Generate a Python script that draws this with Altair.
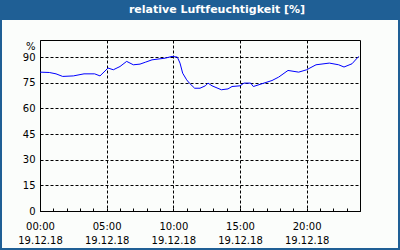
import altair as alt
import pandas as pd

hours = [0.0, 0.7, 1.2, 1.7, 2.5, 3.3, 4.1, 4.5, 5.1, 5.5, 6.0, 6.5, 7.0, 7.5, 7.9,
         8.4, 9.4, 9.9, 10.3, 10.5, 10.7, 11.0, 11.2, 11.6, 12.0, 12.4, 12.6, 12.9,
         13.6, 14.1, 14.4, 15.0, 15.3, 15.8, 16.0, 16.8, 17.4, 17.9, 18.6, 19.4,
         20.0, 20.7, 21.7, 22.4, 22.8, 23.4, 23.9]
humidity = [81.2, 81.0, 80.2, 78.7, 79.0, 80.2, 80.2, 79.0, 83.6, 82.6, 84.5, 87.5,
            85.5, 85.9, 87.0, 88.4, 89.4, 90.4, 90.0, 86.5, 80.6, 76.7, 74.8, 71.8,
            71.8, 73.2, 74.8, 73.2, 70.9, 71.4, 72.8, 73.2, 74.8, 74.8, 72.8, 74.8,
            76.3, 78.3, 82.2, 81.2, 82.6, 85.5, 86.5, 85.5, 84.2, 86.1, 90.4]
x_ticks = [0, 5, 10, 15, 20]
y_ticks = [0, 15, 30, 45, 60, 75, 90]
minor_ticks = list(range(0, 25))
date_label = "19.12.18"
title_text = "relative Luftfeuchtigkeit [%]"

df = pd.DataFrame({"h": hours, "rh": humidity})

FONT = "DejaVu Sans"
BLUE = "#1f5f95"

x_scale = alt.Scale(domain=[0, 24], nice=False, zero=False)
y_scale = alt.Scale(domain=[0, 100], nice=False)

line = alt.Chart(df).mark_line(color="#0000ff", strokeWidth=1).encode(
    x=alt.X("h:Q", scale=x_scale, axis=alt.Axis(
        values=x_ticks, title=None, grid=True, gridColor="black", gridDash=[3, 2],
        gridOpacity=1, ticks=False, domain=True, domainColor="black",
        labelExpr=f"[(datum.value < 10 ? '0' : '') + datum.value + ':00', '{date_label}']",
        labelFont=FONT, labelFontSize=10, labelColor="black", labelPadding=15,
        labelLineHeight=14, labelBaseline="middle", labelFlush=False)),
    y=alt.Y("rh:Q", scale=y_scale, axis=alt.Axis(
        values=y_ticks, title="%", titleAngle=0, titleFont=FONT, titleFontSize=10,
        titleFontWeight="normal", titleColor="black", titleX=-5, titleY=6,
        titleAlign="right", titleBaseline="middle",
        grid=True, gridColor="black", gridDash=[3, 2], gridOpacity=1,
        ticks=False, domain=False, labelFont=FONT, labelFontSize=10,
        labelColor="black", labelPadding=5)),
)

minor = alt.Chart(pd.DataFrame({"h": minor_ticks})).mark_point(opacity=0).encode(
    x=alt.X("h:Q", scale=x_scale, axis=alt.Axis(
        values=minor_ticks, orient="bottom", offset=-3, title=None, labels=False,
        grid=False, domain=False, ticks=True, tickSize=3, tickColor="black")),
)

title_bar = alt.Chart(pd.DataFrame({"t": [title_text]})).mark_rect(color=BLUE).encode(
    x=alt.value(-40), x2=alt.value(360), y=alt.value(-40), y2=alt.value(-20))

frame = alt.Chart(pd.DataFrame({"t": [title_text]})).mark_rect(
    fill=None, stroke=BLUE, strokeWidth=2).encode(
    x=alt.value(-39), x2=alt.value(359), y=alt.value(-39), y2=alt.value(209))

title = alt.Chart(pd.DataFrame({"t": [title_text]})).mark_text(
    font=FONT, fontSize=11, fontWeight="bold", color="white", align="center",
    baseline="alphabetic").encode(
    text="t:N", x=alt.value(177), y=alt.value(-27))

chart = alt.layer(line, minor, title_bar, frame, title).resolve_axis(x="independent").properties(
    width=320, height=171,
    autosize=alt.AutoSizeParams(type="none"),
    padding={"left": 40, "top": 40, "right": 40, "bottom": 39},
    background="#fbfdfb",
).configure_view(stroke="black", strokeWidth=1, fill="#fbfdfb")

chart.save("out.html", embed_options={"renderer": "svg", "actions": False})
